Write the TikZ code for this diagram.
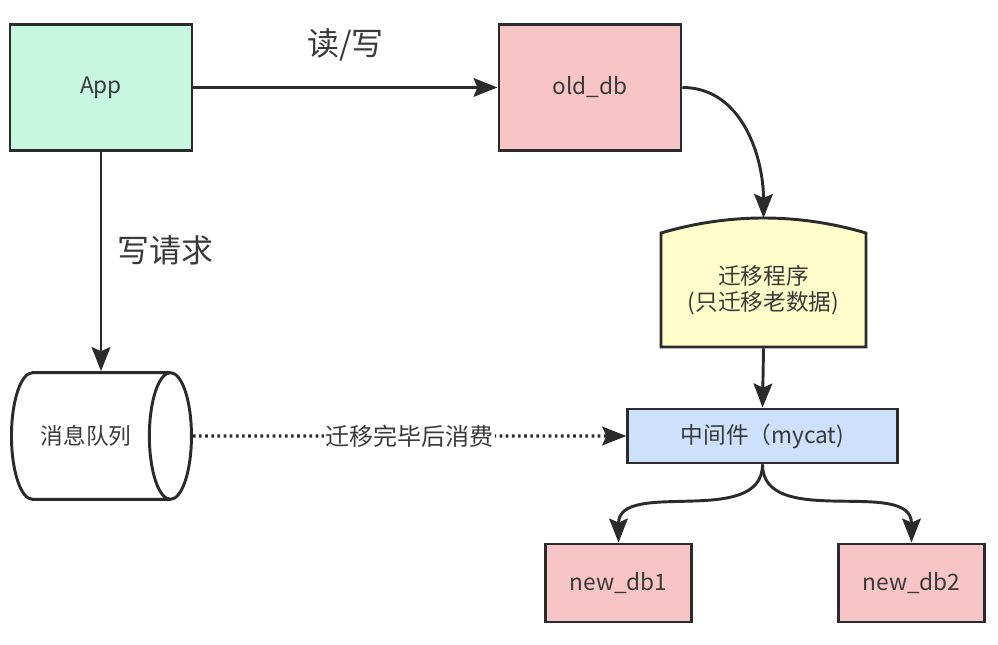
\documentclass[tikz,border=0pt]{standalone}
\usepackage{fontspec}
\setmainfont{Noto Sans CJK SC}
\usepackage{tikz}
\usetikzlibrary{arrows.meta,shapes.geometric}

\definecolor{appgreen}{HTML}{C8F7E1}
\definecolor{dbpink}{HTML}{F8C5C6}
\definecolor{progyellow}{HTML}{FFFDC9}
\definecolor{mwblue}{HTML}{CDE1FC}
\definecolor{linegray}{HTML}{2B2B2B}
\definecolor{textgray}{HTML}{3A3A3A}

\tikzset{
    box/.style={draw=linegray, line width=2.2pt, minimum width=136.5pt, minimum height=95pt, font=\fontsize{17}{20}\selectfont, text=textgray},
    link/.style={draw=linegray, line width=2.2pt, -{Stealth[length=18pt,width=14pt,inset=3pt]}},
    biglabel/.style={font=\fontsize{24}{28}\selectfont, text=textgray}
}

\begin{document}
\begin{tikzpicture}[x=0.75pt, y=-0.75pt]
        \useasboundingbox (0,0) rectangle (998,645);

        % the boxes
        \node[box, fill=appgreen] (app) at (101,87.5) {App};
        \node[box, fill=dbpink] (olddb) at (590,87.5) {old\_db};
        \node[box, fill=dbpink, minimum width=109pt, minimum height=58.5pt] (newdb1) at (618.5,583) {new\_db1};
        \node[box, fill=dbpink, minimum width=109pt, minimum height=58.5pt] (newdb2) at (911.5,583) {new\_db2};
        \node[box, fill=mwblue, minimum width=202pt, minimum height=40.5pt] (mw) at (762.5,436) {中间件（mycat)};

        % the queue
        \node[box, shape=cylinder, fill=white, minimum width=95pt, minimum height=135pt, aspect=1.4, anchor=west] (queue) at (10,436) {消息队列};

        % the migration program, a box with a round top
        \draw[linegray, line width=2.2pt, fill=progyellow] (661,347) -- (661,233) .. controls (729,213) and (798,213) .. (866,233) -- (866,347) -- cycle;
        \node[box, draw=none, minimum width=153.75pt, minimum height=85.5pt, align=center] (mig) at (763.5,290) {迁移程序\\(只迁移老数据)};
        \coordinate (migtop) at (763.5,218);

        % the arrows
        \draw[link] (app.east) -- (olddb.west) node[midway, above=15pt, biglabel] {读/写};
        \draw[link] (app.south) -- (app.south |- queue.north) node[pos=0.45, right=8pt, biglabel] {写请求};
        \draw[link] (olddb.east) to[out=0, in=90] (migtop);
        \draw[link] (mig.south) -- (mw.north);
        \draw[link, line width=2.4pt, dash pattern=on 2pt off 2.6pt] (queue.east) -- (mw.west) node[midway, fill=white, inner sep=1pt, font=\fontsize{18}{21}\selectfont, text=textgray] {迁移完毕后消费};
        \draw[link] (mw.south) to[out=-90, in=90] (newdb1.north);
        \draw[link] (mw.south) to[out=-90, in=90] (newdb2.north);

\end{tikzpicture}
\end{document}
